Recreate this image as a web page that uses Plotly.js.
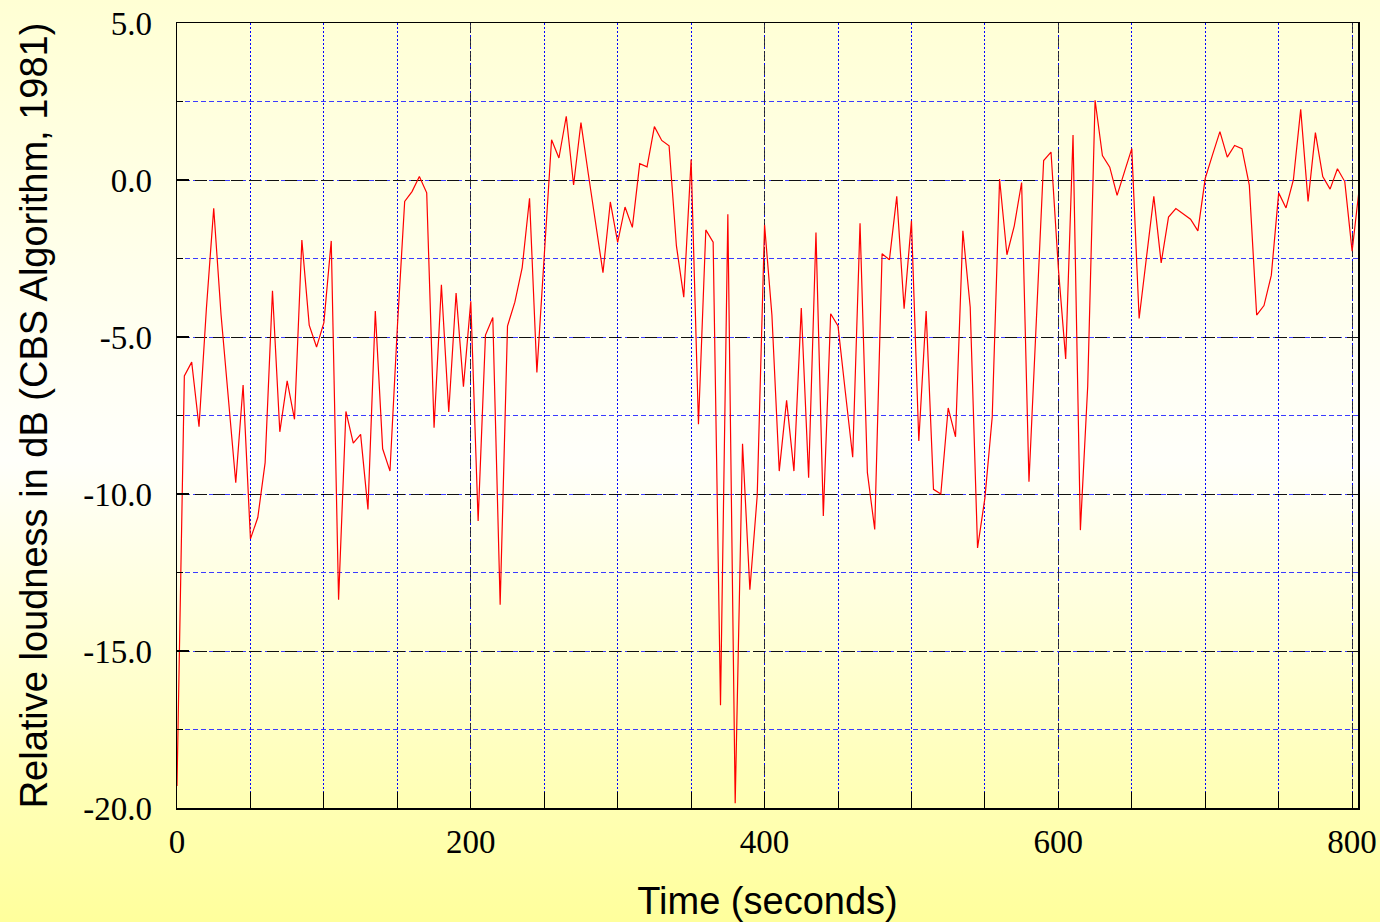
<!DOCTYPE html>
<html>
<head>
<meta charset="utf-8">
<script src="https://cdn.plot.ly/plotly-3.0.1.min.js"></script>
<style>
  html, body { margin: 0; padding: 0; }
  body {
    width: 1380px; height: 922px; overflow: hidden;
    background: linear-gradient(to bottom, #ffffd4 0%, #fffff4 40%, #fffffa 50%, #ffff9c 100%);
  }
  #chart { width: 1380px; height: 922px; }
</style>
</head>
<body>
<div id="chart"></div>
<script>
// Sampling of the series (seconds)
const TIME_START = 0;
const TIME_STEP = 5;

// Relative loudness in dB, one value every 5 seconds (0 .. 805 s)
const loudness = [
  -19.3, -6.24, -5.8, -7.86, -4.1, -0.9, -4.3, -7.0, -9.64, -6.53,
  -11.43, -10.75, -9.0, -3.53, -8.02, -6.4, -7.62, -1.91, -4.62, -5.32,
  -4.54, -1.94, -13.37, -7.37, -8.38, -8.1, -10.49, -4.17, -8.56, -9.27,
  -4.7, -0.68, -0.37, 0.11, -0.41, -7.89, -3.34, -7.39, -3.6, -6.58,
  -3.86, -10.86, -4.94, -4.38, -13.53, -4.65, -3.89, -2.79, -0.58, -6.13,
  -2.4, 1.28, 0.70, 2.03, -0.16, 1.83, 0.2, -1.4, -2.95, -0.7,
  -1.99, -0.86, -1.51, 0.52, 0.42, 1.7, 1.26, 1.09, -2.1, -3.73,
  0.65, -7.78, -1.59, -1.98, -16.73, -1.09, -19.85, -8.4, -13.05, -10.05,
  -1.43, -4.3, -9.27, -7.02, -9.27, -4.08, -9.48, -1.67, -10.7, -4.26,
  -4.65, -6.75, -8.83, -1.38, -9.32, -11.13, -2.35, -2.54, -0.52, -4.1,
  -1.3, -8.31, -4.17, -9.85, -10.0, -7.26, -8.18, -1.62, -4.05, -11.72,
  -10.13, -7.54, 0.03, -2.38, -1.46, -0.08, -9.61, -4.5, 0.62, 0.89,
  -2.8, -5.7, 1.43, -11.15, -6.56, 2.54, 0.78, 0.41, -0.49, 0.26,
  1.0, -4.41, -2.43, -0.52, -2.64, -1.18, -0.91, -1.09, -1.25, -1.62,
  0.05, 0.81, 1.54, 0.73, 1.1, 1.0, -0.16, -4.3, -4.0, -3.03,
  -0.41, -0.89, 0.0, 2.25, -0.68, 1.51, 0.11, -0.29, 0.36, -0.05,
  -2.27, -0.2
];

// Tick labels
const xTickVals = [0, 200, 400, 600, 800];
const xTickText = ["0", "200", "400", "600", "800"];
const yTickVals = [5, 0, -5, -10, -15, -20];
const yTickText = ["5.0", "0.0", "-5.0", "-10.0", "-15.0", "-20.0"];

const xTitle = "Time (seconds)";
const yTitle = "Relative loudness in dB (CBS Algorithm, 1981)";

const trace = {
  type: "scatter",
  mode: "lines",
  x0: TIME_START,
  dx: TIME_STEP,
  y: loudness,
  line: { color: "#ff0000", width: 1.2 },
  hoverinfo: "skip",
  cliponaxis: true
};

const tickFont = { family: "Liberation Serif, Times New Roman, serif", size: 33, color: "#000" };
const titleFont = { family: "Liberation Sans, Arial, sans-serif", size: 38, color: "#000" };

const layout = {
  width: 1380,
  height: 922,
  margin: { l: 177, r: 22, t: 23, b: 114, pad: 0 },
  paper_bgcolor: "rgba(0,0,0,0)",
  plot_bgcolor: "rgba(0,0,0,0)",
  showlegend: false,
  xaxis: {
    range: [0, 804],
    tickmode: "array",
    tickvals: xTickVals,
    ticktext: xTickText,
    tickfont: tickFont,
    ticks: "inside",
    ticklen: 16,
    tickwidth: 1.2,
    tickcolor: "#000",
    ticklabelstandoff: 4,
    showline: true,
    linecolor: "#000",
    linewidth: 1.5,
    mirror: true,
    zeroline: false,
    showgrid: true,
    gridcolor: "rgba(30,30,30,0.85)",
    gridwidth: 1,
    griddash: "10px,4px",
    minor: {
      dtick: 50,
      tick0: 0,
      showgrid: true,
      gridcolor: "#0000ff",
      gridwidth: 1,
      griddash: "2px,2px",
      ticks: "inside",
      ticklen: 16,
      tickcolor: "#000",
      tickwidth: 1
    },
    title: { text: xTitle, font: titleFont, standoff: 34 }
  },
  yaxis: {
    range: [-20, 5],
    tickmode: "array",
    tickvals: yTickVals,
    ticktext: yTickText,
    tickfont: tickFont,
    ticks: "inside",
    ticklen: 12,
    tickwidth: 1.2,
    tickcolor: "#000",
    ticklabelstandoff: 17,
    showline: true,
    linecolor: "#000",
    linewidth: 1.5,
    mirror: true,
    zeroline: false,
    showgrid: true,
    gridcolor: "#111",
    gridwidth: 1,
    griddash: "12px,6px",
    minor: {
      dtick: 2.5,
      tick0: 0,
      showgrid: true,
      gridcolor: "#3c3cff",
      gridwidth: 1,
      griddash: "5px,3px",
      ticks: "inside",
      ticklen: 6,
      tickcolor: "#000",
      tickwidth: 1
    },
    title: { text: yTitle, font: titleFont, standoff: 24 }
  }
};

Plotly.newPlot("chart", [trace], layout, { displayModeBar: false, staticPlot: true });
</script>
</body>
</html>
